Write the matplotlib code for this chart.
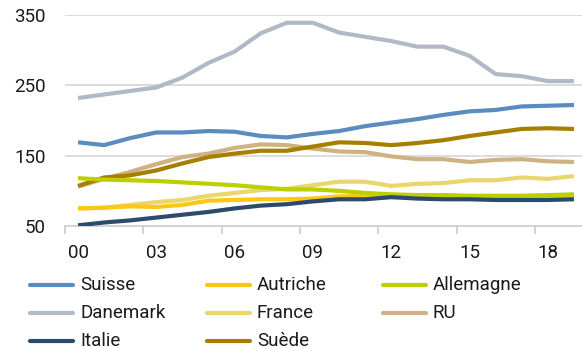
import numpy as np
import matplotlib
matplotlib.use("Agg")
import matplotlib.pyplot as plt
from matplotlib.lines import Line2D

plt.rcParams['font.family'] = ['Roboto', 'DejaVu Sans']

years = np.arange(2000, 2020)
tick_labels = ["00", "03", "06", "09", "12", "15", "18"]

suisse = [169, 165, 175, 183, 183, 185, 184, 178, 176, 181, 185, 192, 197, 202, 208, 213, 215, 220, 221, 222]
autriche = [75, 76, 78, 77, 80, 86, 87, 88, 88, 89, 92, 93, 93, 92, 92, 91, 91, 91, 92, 92]
allemagne = [118, 116, 115, 114, 112, 110, 108, 105, 102, 102, 100, 97, 95, 94, 94, 93, 93, 93, 94, 95]
danemark = [232, 237, 242, 247, 261, 282, 298, 324, 339, 339, 325, 319, 313, 305, 305, 292, 266, 263, 256, 256]
france = [75, 76, 80, 84, 87, 93, 97, 101, 103, 108, 113, 113, 107, 110, 111, 115, 115, 119, 117, 121]
ru = [106, 117, 127, 138, 148, 153, 161, 166, 165, 160, 156, 155, 149, 145, 145, 141, 144, 145, 142, 141]
italie = [51, 55, 58, 62, 66, 70, 75, 79, 81, 85, 88, 88, 91, 89, 88, 88, 87, 87, 87, 88]
suede = [107, 119, 122, 129, 139, 148, 153, 157, 157, 163, 169, 168, 165, 168, 172, 178, 183, 188, 189, 188]

series = [
    ("Suisse", suisse, "#5b8cc0"),
    ("Autriche", autriche, "#fcc814"),
    ("Allemagne", allemagne, "#bccf00"),
    ("Danemark", danemark, "#b1b8c6"),
    ("France", france, "#ead66c"),
    ("RU", ru, "#cfb283"),
    ("Italie", italie, "#2c4b6c"),
    ("Suède", suede, "#a67f00"),
]
# drawing order (back to front)
draw_order = ["Danemark", "Suisse", "RU", "Suède", "France", "Autriche", "Allemagne", "Italie"]

W, H = 582, 349
fig = plt.figure(figsize=(W / 100, H / 100), dpi=100)
ax = fig.add_axes([65 / W, (H - 226) / H, 522 / W, 211 / H])

x = np.arange(len(years))
lookup = {name: (vals, col) for name, vals, col in series}
for name in draw_order:
    vals, col = lookup[name]
    ax.plot(x, vals, color=col, lw=3.0, solid_capstyle="butt", zorder=3)

ax.set_xlim(-0.5, 19.5)
ax.set_ylim(50, 350)
ax.set_yticks([50, 150, 250, 350])
for v in [150, 250, 350]:
    ax.axhline(v, color="#d9d9d9", lw=1.3, zorder=1)

ax.set_xticks(np.arange(0, 20, 3))
ax.set_xticklabels(tick_labels)
ax.set_xticks(np.arange(-0.5, 19, 3), minor=True)
ax.tick_params(axis="x", which="major", length=0, pad=13, labelsize=13.5, colors="#1a1a1a")
ax.tick_params(axis="x", which="minor", length=6, width=1.3, color="#d0d0d0")
ax.tick_params(axis="y", length=0, pad=14, labelsize=13.5, colors="#1a1a1a")

for s in ["top", "right", "left"]:
    ax.spines[s].set_visible(False)
ax.spines["bottom"].set_color("#d0d0d0")
ax.spines["bottom"].set_linewidth(1.3)

# legend: three columns, row-major order
col_x = [30, 207, 383]
row_y = [285, 313, 341]
for i, (name, vals, col) in enumerate(series):
    r, c = divmod(i, 3)
    x0 = col_x[c] / W
    yy = (H - row_y[r]) / H
    fig.add_artist(Line2D([x0, x0 + 43 / W], [yy, yy], color=col, lw=3.0,
                          transform=fig.transFigure, solid_capstyle="round"))
    fig.text(x0 + 50 / W, yy, name, fontsize=13.5, va="center", ha="left", color="#1a1a1a")

fig.savefig("out.png", dpi=100)
